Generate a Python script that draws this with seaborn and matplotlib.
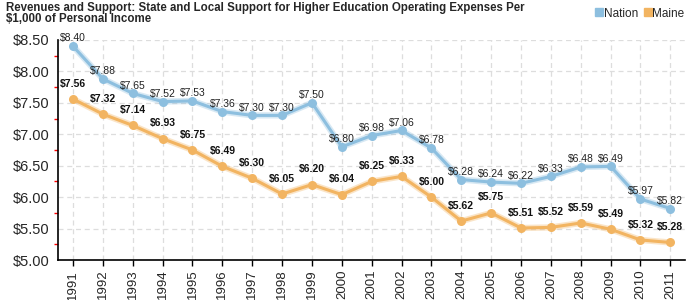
import matplotlib
matplotlib.use("Agg")
import matplotlib.pyplot as plt
import seaborn as sns
import pandas as pd
from matplotlib.ticker import MultipleLocator, FuncFormatter
from matplotlib.lines import Line2D

years = list(range(1991, 2012))
nation = [8.40, 7.88, 7.65, 7.52, 7.53, 7.36, 7.30, 7.30, 7.50, 6.80, 6.98,
          7.06, 6.78, 6.28, 6.24, 6.22, 6.33, 6.48, 6.49, 5.97, 5.82]
maine = [7.56, 7.32, 7.14, 6.93, 6.75, 6.49, 6.30, 6.05, 6.20, 6.04, 6.25,
         6.33, 6.00, 5.62, 5.75, 5.51, 5.52, 5.59, 5.49, 5.32, 5.28]
series_names = ["Nation", "Maine"]
colors = {"Nation": "#8dbfdf", "Maine": "#f2b461"}
title = "Revenues and Support: State and Local Support for Higher Education Operating Expenses Per\n$1,000 of Personal Income"

df = pd.concat([
    pd.DataFrame({"Year": years, "Value": nation, "Series": "Nation"}),
    pd.DataFrame({"Year": years, "Value": maine, "Series": "Maine"}),
])

sns.set_style("white")
plt.rcParams['font.family'] = ['Liberation Sans', 'DejaVu Sans']

fig = plt.figure(figsize=(7, 3), dpi=100)
ax = fig.add_axes([0.083, 0.133, 0.896, 0.734])

# halo lines
for name in series_names:
    sub = df[df.Series == name]
    ax.plot(sub.Year, sub.Value, color=colors[name], lw=4.5, alpha=0.35,
            solid_capstyle="round", zorder=2)

sns.lineplot(data=df, x="Year", y="Value", hue="Series", palette=colors,
             hue_order=series_names, marker="o", markersize=6.5,
             markeredgewidth=0, linewidth=2.2, ax=ax, legend=False, zorder=3)

for x, y in zip(years, nation):
    ax.annotate(f"${y:.2f}", (x, y), xytext=(0, 2), textcoords="offset points",
                ha="center", va="bottom", fontsize=7.5, color="#222222")
for x, y in zip(years, maine):
    ax.annotate(f"${y:.2f}", (x, y), xytext=(0, 7.5), textcoords="offset points",
                ha="center", va="bottom", fontsize=7.5, fontweight="bold",
                color="#111111")

ax.set_xlim(1990.5, 2011.5)
ax.set_ylim(5.0, 8.5)
ax.set_xticks(years)
ax.set_xticklabels([str(y) for y in years], rotation=90, fontsize=9.5)
ax.yaxis.set_major_locator(MultipleLocator(0.5))
ax.yaxis.set_minor_locator(MultipleLocator(0.25))
ax.yaxis.set_major_formatter(FuncFormatter(lambda v, p: f"${v:.2f}"))
ax.tick_params(axis="y", which="major", labelsize=10.5, length=4, width=1, color="black", pad=2)
ax.tick_params(axis="y", which="minor", length=3, width=1, color="red", left=True)
ax.tick_params(axis="x", which="major", length=4, width=1, color="black", pad=3, bottom=True)
ax.set_xlabel("")
ax.set_ylabel("")
ax.grid(True, which="major", color="#dddddd", linestyle=(0, (4, 3)), linewidth=0.9)
ax.set_axisbelow(True)
for s in ["top", "right"]:
    ax.spines[s].set_visible(False)
for s in ["left", "bottom"]:
    ax.spines[s].set_color("black")
    ax.spines[s].set_linewidth(1.2)

fig.text(0.008, 0.995, title, ha="left", va="top", fontsize=8.3, fontweight="bold",
         linespacing=0.95)

handles = [Line2D([], [], marker="s", linestyle="", color=colors[n], markersize=6)
           for n in series_names]
fig.legend(handles, series_names, loc="upper right", bbox_to_anchor=(0.993, 1.01),
           ncol=2, frameon=False, fontsize=8.5, handletextpad=0.0, columnspacing=0.4,
           handlelength=0.8)

fig.savefig("out.png", dpi=100)
